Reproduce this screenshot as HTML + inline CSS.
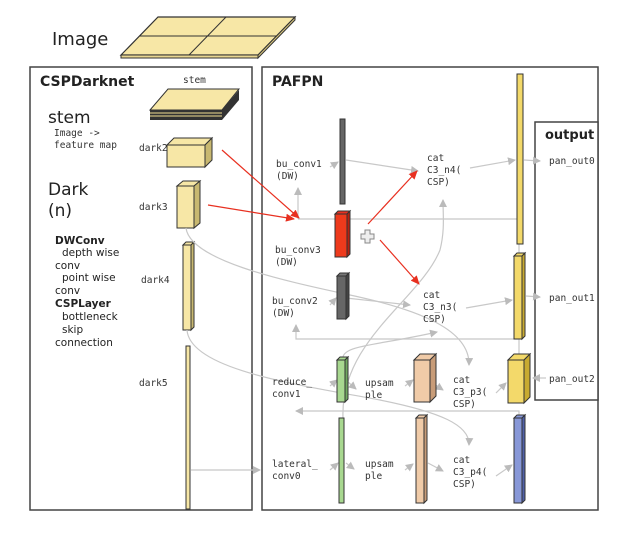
<!DOCTYPE html>
<html><head><meta charset="utf-8"><style>
html,body{margin:0;padding:0;background:#fff;}
svg{display:block;}
.m{font-family:"DejaVu Sans Mono","Liberation Mono",monospace;font-size:9.5px;fill:#333;}
.s{font-family:"DejaVu Sans","Liberation Sans",sans-serif;fill:#222;}
</style></head><body>
<svg width="630" height="536" viewBox="0 0 630 536" xmlns="http://www.w3.org/2000/svg">
<defs>
<marker id="g" markerWidth="8" markerHeight="8" refX="7" refY="4" orient="auto" markerUnits="userSpaceOnUse"><path d="M0,0 L8,4 L0,8 Z" fill="#bbb"/></marker>
<marker id="r" markerWidth="9" markerHeight="8" refX="8" refY="4" orient="auto" markerUnits="userSpaceOnUse"><path d="M0,0 L9,4 L0,8 Z" fill="#e83020"/></marker>
</defs>
<text x="52" y="45" class="s" font-size="18">Image</text>
<polygon points="158,17 295,17 258,55 121,55" fill="#f7e7a6" stroke="#333" stroke-width="1.2"/>
<polygon points="121,55 258,55 258,58 121,58" fill="#e8d690" stroke="#333" stroke-width="1"/>
<polygon points="258,55 295,17 295,20 258,58" fill="#d9c77e" stroke="#333" stroke-width="1"/>
<line x1="226" y1="17" x2="189" y2="55" stroke="#333"/><line x1="140" y1="36" x2="277" y2="36" stroke="#333"/>

<rect x="30" y="67" width="222" height="443" fill="none" stroke="#444" stroke-width="1.5"/>
<rect x="262" y="67" width="336" height="443" fill="none" stroke="#444" stroke-width="1.5"/>
<rect x="535" y="122" width="63" height="278" fill="#fff" stroke="#444" stroke-width="1.5"/>
<text x="40" y="86" class="s" font-size="14" font-weight="bold">CSPDarknet</text>
<text x="272" y="86" class="s" font-size="14" font-weight="bold">PAFPN</text>
<text x="545" y="139" class="s" font-size="13" font-weight="bold">output</text>
<text x="183" y="83" class="m" font-size="8.5">stem</text>
<!-- stem stack -->
<polygon points="150,110 222,110 222,120 150,120" fill="#333"/>
<line x1="150" y1="113" x2="222" y2="113" stroke="#f0dc90"/><line x1="150" y1="116" x2="222" y2="116" stroke="#f0dc90"/>
<polygon points="222,110 239,90 239,100 222,120" fill="#333"/>
<polygon points="168,89 239,89 222,110 150,110" fill="#f7e7a6" stroke="#333"/>
<text x="48" y="123" class="s" font-size="17">stem</text>
<text x="54" y="136" class="m">Image -&gt;</text>
<text x="54" y="148" class="m">feature map</text>
<text x="48" y="195" class="s" font-size="17">Dark</text>
<text x="48" y="216" class="s" font-size="17">(n)</text>
<g class="s" font-size="10.5">
<text x="55" y="244" font-weight="bold">DWConv</text><text x="62" y="256">depth wise</text><text x="55" y="269">conv</text>
<text x="62" y="281">point wise</text><text x="55" y="294">conv</text><text x="55" y="307" font-weight="bold">CSPLayer</text>
<text x="62" y="320">bottleneck</text><text x="62" y="333">skip</text><text x="55" y="346">connection</text>
</g>
<!-- dark blocks -->
<polygon points="167,145 174,138 212,138 205,145" fill="#f7e7a6" stroke="#333"/>
<polygon points="205,145 212,138 212,160 205,167" fill="#c8b870" stroke="#333"/>
<rect x="167" y="145" width="38" height="22" fill="#f7e7a6" stroke="#333"/>
<text x="139" y="151" class="m">dark2</text>
<polygon points="177,186 183,181 200,181 194,186" fill="#f7e7a6" stroke="#333"/>
<polygon points="194,186 200,181 200,223 194,228" fill="#c8b870" stroke="#333"/>
<rect x="177" y="186" width="17" height="42" fill="#f7e7a6" stroke="#333"/>
<text x="139" y="210" class="m">dark3</text>
<polygon points="183,245 186,242 194,242 191,245" fill="#f7e7a6" stroke="#333"/>
<polygon points="191,245 194,242 194,327 191,330" fill="#c8b870" stroke="#333"/>
<rect x="183" y="245" width="8" height="85" fill="#f7e7a6" stroke="#333"/>
<text x="141" y="283" class="m">dark4</text>
<rect x="186" y="346" width="4" height="163" fill="#f7e7a6" stroke="#333"/>
<text x="139" y="386" class="m">dark5</text>

<!-- gray connectors -->
<g fill="none" stroke="#c8c8c8" stroke-width="1.2">
<path d="M186,228 C190,260 280,280 350,295 C420,310 470,330 469,365" marker-end="url(#g)"/>
<path d="M187,330 C190,370 300,385 380,400 C440,412 470,425 469,445" marker-end="url(#g)"/>
<path d="M343,418 C340,340 420,300 440,250 C445,230 443,215 443,200" marker-end="url(#g)"/>
<path d="M343,357 C345,345 380,345 437,332" marker-end="url(#g)"/>
<line x1="191" y1="470" x2="260" y2="470" marker-end="url(#g)"/>
<path d="M519,339 L296,339 L296,325" marker-end="url(#g)"/>
<path d="M519,354 L519,339"/>
<path d="M519,416 L519,411 L296,411" marker-end="url(#g)"/>
<path d="M520,219 L298,219"/>
<path d="M298,219 L298,188" marker-end="url(#g)"/>
<line x1="519" y1="244" x2="519" y2="254"/>
<line x1="330" y1="167" x2="338" y2="162" marker-end="url(#g)"/>
<line x1="346" y1="160" x2="418" y2="171" marker-end="url(#g)"/>
<line x1="470" y1="168" x2="515" y2="160" marker-end="url(#g)"/>
<line x1="524" y1="160" x2="540" y2="161" marker-end="url(#g)"/>
<line x1="330" y1="305" x2="336" y2="298" marker-end="url(#g)"/>
<line x1="346" y1="298" x2="410" y2="305" marker-end="url(#g)"/>
<line x1="466" y1="308" x2="512" y2="300" marker-end="url(#g)"/>
<line x1="526" y1="296" x2="540" y2="297" marker-end="url(#g)"/>
<line x1="546" y1="378" x2="533" y2="378" marker-end="url(#g)"/>
<line x1="330" y1="386" x2="337" y2="380" marker-end="url(#g)"/>
<line x1="348" y1="382" x2="356" y2="389" marker-end="url(#g)"/>
<line x1="405" y1="386" x2="413" y2="380" marker-end="url(#g)"/>
<line x1="434" y1="384" x2="443" y2="390" marker-end="url(#g)"/>
<line x1="496" y1="393" x2="506" y2="383" marker-end="url(#g)"/>
<line x1="330" y1="470" x2="338" y2="463" marker-end="url(#g)"/>
<line x1="346" y1="463" x2="354" y2="469" marker-end="url(#g)"/>
<line x1="405" y1="470" x2="413" y2="464" marker-end="url(#g)"/>
<line x1="428" y1="463" x2="443" y2="471" marker-end="url(#g)"/>
<line x1="496" y1="476" x2="512" y2="465" marker-end="url(#g)"/>
</g>
<!-- red arrows -->
<g stroke="#e83020" stroke-width="1.2" fill="none">
<line x1="222" y1="150" x2="299" y2="218" marker-end="url(#r)"/>
<line x1="208" y1="205" x2="294" y2="219" marker-end="url(#r)"/>
<line x1="368" y1="224" x2="417" y2="171" marker-end="url(#r)"/>
<line x1="380" y1="240" x2="419" y2="284" marker-end="url(#r)"/>
</g>
<!-- plus -->
<path d="M365,230 h5 v4 h4 v5 h-4 v4 h-5 v-4 h-4 v-5 h4 z" fill="#eee" stroke="#888"/>

<!-- PAFPN bars -->
<rect x="340" y="119" width="5" height="85" fill="#666" stroke="#333"/>
<polygon points="335,214 338,211 350,211 347,214" fill="#e83020" stroke="#333"/>
<polygon points="347,214 350,211 350,254 347,257" fill="#b82010" stroke="#333"/>
<rect x="335" y="214" width="12" height="43" fill="#ee3a1c" stroke="#333"/>
<polygon points="337,276 340,273 349,273 346,276" fill="#777" stroke="#333"/>
<polygon points="346,276 349,273 349,316 346,319" fill="#444" stroke="#333"/>
<rect x="337" y="276" width="9" height="43" fill="#666" stroke="#333"/>
<rect x="517" y="74" width="6" height="170" fill="#f3d96a" stroke="#333"/>
<polygon points="514,256 517,253 525,253 522,256" fill="#f3d96a" stroke="#333"/>
<polygon points="522,256 525,253 525,336 522,339" fill="#c8aa30" stroke="#333"/>
<rect x="514" y="256" width="8" height="83" fill="#f3d96a" stroke="#333"/>
<polygon points="337,360 340,357 348,357 345,360" fill="#a8d890" stroke="#333"/>
<polygon points="345,360 348,357 348,399 345,402" fill="#70a860" stroke="#333"/>
<rect x="337" y="360" width="8" height="42" fill="#a8d890" stroke="#333"/>
<polygon points="414,360 420,354 436,354 430,360" fill="#f0cba8" stroke="#333"/>
<polygon points="430,360 436,354 436,396 430,402" fill="#c89c78" stroke="#333"/>
<rect x="414" y="360" width="16" height="42" fill="#f0cba8" stroke="#333"/>
<polygon points="508,360 514,354 530,354 524,360" fill="#f3d96a" stroke="#333"/>
<polygon points="524,360 530,354 530,397 524,403" fill="#c8aa30" stroke="#333"/>
<rect x="508" y="360" width="16" height="43" fill="#f3d96a" stroke="#333"/>
<rect x="339" y="418" width="5" height="85" fill="#a8d890" stroke="#333"/>
<polygon points="416,418 419,415 427,415 424,418" fill="#f0cba8" stroke="#333"/>
<polygon points="424,418 427,415 427,500 424,503" fill="#c89c78" stroke="#333"/>
<rect x="416" y="418" width="8" height="85" fill="#f0cba8" stroke="#333"/>
<polygon points="514,418 517,415 525,415 522,418" fill="#8898d8" stroke="#333"/>
<polygon points="522,418 525,415 525,500 522,503" fill="#5060a8" stroke="#333"/>
<rect x="514" y="418" width="8" height="85" fill="#8898d8" stroke="#333"/>

<!-- labels -->
<g class="m">
<text x="276" y="167">bu_conv1</text><text x="276" y="179">(DW)</text>
<text x="275" y="253">bu_conv3</text><text x="275" y="265">(DW)</text>
<text x="272" y="304">bu_conv2</text><text x="272" y="316">(DW)</text>
<text x="427" y="161">cat</text><text x="427" y="173">C3_n4(</text><text x="427" y="185">CSP)</text>
<text x="423" y="298">cat</text><text x="423" y="310">C3_n3(</text><text x="423" y="322">CSP)</text>
<text x="549" y="164">pan_out0</text><text x="549" y="301">pan_out1</text><text x="549" y="382">pan_out2</text>
<text x="272" y="413" y="0"></text>
<text x="272" y="414"></text>
<text x="272" y="412"></text>
<text x="272" y="414"></text>
<text x="272" y="385">reduce_</text><text x="272" y="397">conv1</text>
<text x="365" y="386">upsam</text><text x="365" y="398">ple</text>
<text x="453" y="383">cat</text><text x="453" y="395">C3_p3(</text><text x="453" y="407">CSP)</text>
<text x="272" y="467">lateral_</text><text x="272" y="479">conv0</text>
<text x="365" y="467">upsam</text><text x="365" y="479">ple</text>
<text x="453" y="463">cat</text><text x="453" y="475">C3_p4(</text><text x="453" y="487">CSP)</text>
</g>
</svg>
</body></html>
